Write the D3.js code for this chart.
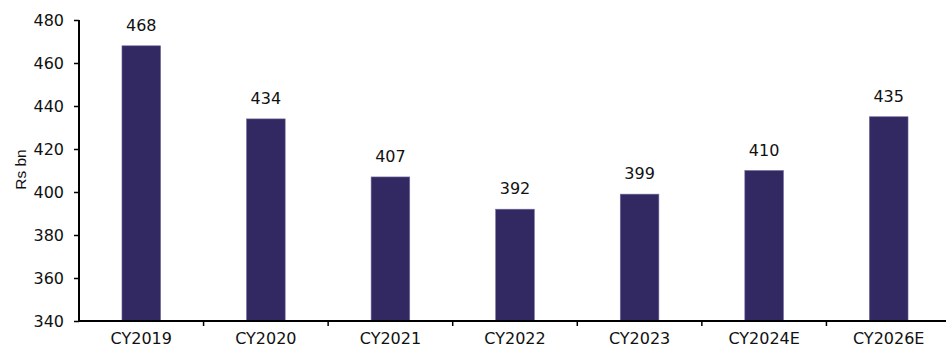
<!DOCTYPE html>
<html><head><meta charset="utf-8">
<script src="https://cdn.jsdelivr.net/npm/d3@7"></script>
<style>body{margin:0;background:#fff}svg{display:block}</style>
</head><body><svg id="c" width="946" height="349"></svg>
<script>
const categories = ["CY2019","CY2020","CY2021","CY2022","CY2023","CY2024E","CY2026E"];
const values = [468,434,407,392,399,410,435];
const yTicks = [340,360,380,400,420,440,460,480];
const yTitle = "Rs bn";

(function(){
const svg = d3.select("#c");
const mL = 79, mR = 951, mT = 20, mB = 321;
const x = d3.scaleBand().domain(categories).range([mL, mR]).paddingInner(0.69).paddingOuter(0.345);
const xt = d3.scaleBand().domain(categories).range([mL, mR]);
const y = d3.scaleLinear().domain([340,480]).range([mB, mT]);
const font = "DejaVu Sans, Verdana, sans-serif";
const fs = 16;

svg.selectAll("rect.bar").data(values).enter().append("rect")
  .attr("x",(d,i)=>x(categories[i])).attr("width",x.bandwidth())
  .attr("y",d=>y(d)).attr("height",d=>y(340)-y(d))
  .attr("fill","#322963").attr("stroke","#6e6a9a").attr("stroke-width",0.6);

svg.selectAll("text.val").data(values).enter().append("text")
  .attr("x",(d,i)=>x(categories[i])+x.bandwidth()/2).attr("y",d=>y(d)-15)
  .attr("text-anchor","middle").attr("font-family",font).attr("font-size",fs).attr("fill","#111")
  .text(d=>d);

const ya = svg.append("g").attr("transform",`translate(${mL},0)`)
  .call(d3.axisLeft(y).tickValues(yTicks).tickSize(5).tickPadding(10));
ya.select(".domain").attr("stroke","#000").attr("stroke-width",2).attr("d",`M0,${mT}V${mB}`);
ya.selectAll(".tick line").attr("stroke","#000").attr("stroke-width",1.5);
ya.selectAll("text").attr("font-family",font).attr("font-size",fs).attr("fill","#111");

const xa = svg.append("g").attr("transform",`translate(0,${mB})`)
  .call(d3.axisBottom(xt).tickSize(0).tickPadding(12));
xa.select(".domain").attr("stroke","#000").attr("stroke-width",2).attr("d",`M${mL},0H${mR}`);
xa.selectAll("text").attr("font-family",font).attr("font-size",fs).attr("fill","#111");
xa.selectAll(".tick line").remove();
svg.append("g").selectAll("line").data(categories.slice(1)).enter().append("line")
  .attr("x1",d=>xt(d)).attr("x2",d=>xt(d)).attr("y1",mB).attr("y2",mB+5)
  .attr("stroke","#000").attr("stroke-width",1.5);

svg.append("text").attr("transform",`translate(26,169.5) rotate(-90)`)
  .attr("text-anchor","middle").attr("font-family","Liberation Sans, Arial, sans-serif").attr("font-size",15.5).attr("fill","#111")
  .text(yTitle);
})();
</script></body></html>
